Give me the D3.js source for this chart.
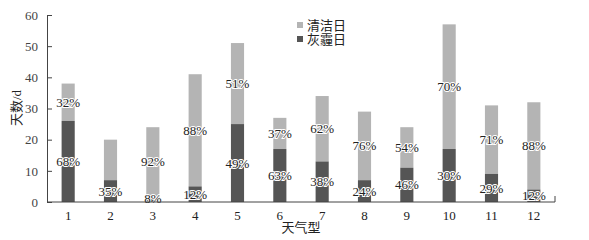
<!DOCTYPE html>
<html>
<head>
<meta charset="utf-8">
<script src="https://cdnjs.cloudflare.com/ajax/libs/d3/7.8.5/d3.min.js"></script>
<style>
  body { margin: 0; background: #fff; }
</style>
</head>
<body>
<div id="chart"></div>
<script>
const weatherTypes = ['1', '2', '3', '4', '5', '6', '7', '8', '9', '10', '11', '12']
const hazeDays = [26, 7, 2, 5, 25, 17, 13, 7, 11, 17, 9, 4]
const cleanDays = [12, 13, 22, 36, 26, 10, 21, 22, 13, 40, 22, 28]
const hazeLabels = ['68%', '35%', '8%', '12%', '49%', '63%', '38%', '24%', '46%', '30%', '29%', '12%']
const cleanLabels = ['32%', '', '92%', '88%', '51%', '37%', '62%', '76%', '54%', '70%', '71%', '88%']
const yTicks = [0, 10, 20, 30, 40, 50, 60]

const width = 589, height = 240
const margin = {top: 15, right: 34, bottom: 38, left: 47}
const chartWidth = width - margin.left - margin.right
const chartHeight = height - margin.top - margin.bottom

const fontStack = '"Liberation Serif", "Times New Roman", Times, "DejaVu Serif", "Noto Sans CJK SC", serif'
const darkColor = '#555555'
const lightColor = '#b4b4b4'

const svg = d3.select('#chart')
    .append('svg')
    .attr('width', width)
    .attr('height', height)
    .style('font-family', fontStack)

const g = svg.append('g')
    .attr('transform', `translate(${margin.left},${margin.top})`)

const xScale = d3.scaleBand().domain(weatherTypes).range([0, chartWidth]).paddingInner(0.69).paddingOuter(0.345)
const yScale = d3.scaleLinear().domain([0, 60]).range([chartHeight, 0])

const rows = weatherTypes.map((t, i) => ({
    t: t, haze: hazeDays[i], clean: cleanDays[i], hl: hazeLabels[i], cl: cleanLabels[i]
}))

// clean (top) segments
g.selectAll('.clean')
    .data(rows)
    .enter().append('rect')
    .attr('x', d => xScale(d.t))
    .attr('width', xScale.bandwidth())
    .attr('y', d => yScale(d.haze + d.clean))
    .attr('height', d => yScale(d.haze) - yScale(d.haze + d.clean))
    .style('fill', lightColor)

// haze (bottom) segments
g.selectAll('.haze')
    .data(rows)
    .enter().append('rect')
    .attr('x', d => xScale(d.t))
    .attr('width', xScale.bandwidth())
    .attr('y', d => yScale(d.haze))
    .attr('height', d => yScale(0) - yScale(d.haze))
    .style('fill', darkColor)

// percentage labels
const labelStyle = sel => sel
    .attr('text-anchor', 'middle')
    .attr('dy', '0.35em')
    .style('font-family', fontStack)
    .style('font-size', '13px')
    .style('fill', '#222')
    .style('stroke', '#fff')
    .style('stroke-width', '2px')
    .style('paint-order', 'stroke')

g.selectAll('.hl')
    .data(rows)
    .enter().append('text')
    .attr('x', d => xScale(d.t) + xScale.bandwidth() / 2)
    .attr('y', d => yScale(d.haze / 2))
    .text(d => d.hl)
    .call(labelStyle)

g.selectAll('.cl')
    .data(rows.filter(d => d.cl !== ''))
    .enter().append('text')
    .attr('x', d => xScale(d.t) + xScale.bandwidth() / 2)
    .attr('y', d => yScale(d.haze + d.clean / 2))
    .text(d => d.cl)
    .call(labelStyle)

// bottom axis
const xAxis = g.append('g')
    .attr('transform', `translate(0,${chartHeight})`)
    .call(d3.axisBottom(xScale).tickSize(0).tickPadding(9))
xAxis.select('.domain').attr('d', `M0,0H${chartWidth}V-6`).style('stroke', '#444')
xAxis.selectAll('text').style('font-family', fontStack).style('font-size', '13px').style('fill', '#222')

// left axis
const yAxis = g.append('g')
    .call(d3.axisLeft(yScale).tickValues(yTicks).tickSize(-5).tickSizeOuter(0).tickPadding(9))
yAxis.select('.domain').style('stroke', '#444')
yAxis.selectAll('.tick line').style('stroke', '#444')
yAxis.selectAll('text').style('font-family', fontStack).style('font-size', '13px').style('fill', '#444')

// legend
const legendItems = [{name: '清洁日', color: lightColor}, {name: '灰霾日', color: darkColor}]
const legend = svg.append('g').attr('transform', 'translate(297,20)')
legend.selectAll('rect')
    .data(legendItems)
    .enter().append('rect')
    .attr('x', 0)
    .attr('y', (d, i) => i * 14 + 2)
    .attr('width', 6)
    .attr('height', 6)
    .style('fill', d => d.color)
legend.selectAll('text')
    .data(legendItems)
    .enter().append('text')
    .attr('x', 10)
    .attr('y', (d, i) => i * 14 + 5)
    .attr('dy', '0.35em')
    .style('font-family', fontStack)
    .style('font-size', '13px')
    .style('fill', '#222')
    .text(d => d.name)

// axis titles
svg.append('text')
    .attr('x', margin.left + chartWidth / 2)
    .attr('y', 232)
    .attr('text-anchor', 'middle')
    .style('font-family', fontStack)
    .style('font-size', '13px')
    .style('fill', '#222')
    .text('天气型')

svg.append('text')
    .attr('text-anchor', 'middle')
    .attr('transform', 'translate(21,108)rotate(-90)')
    .style('font-family', fontStack)
    .style('font-size', '13px')
    .style('fill', '#222')
    .text('天数/d')
</script>
</body>
</html>
